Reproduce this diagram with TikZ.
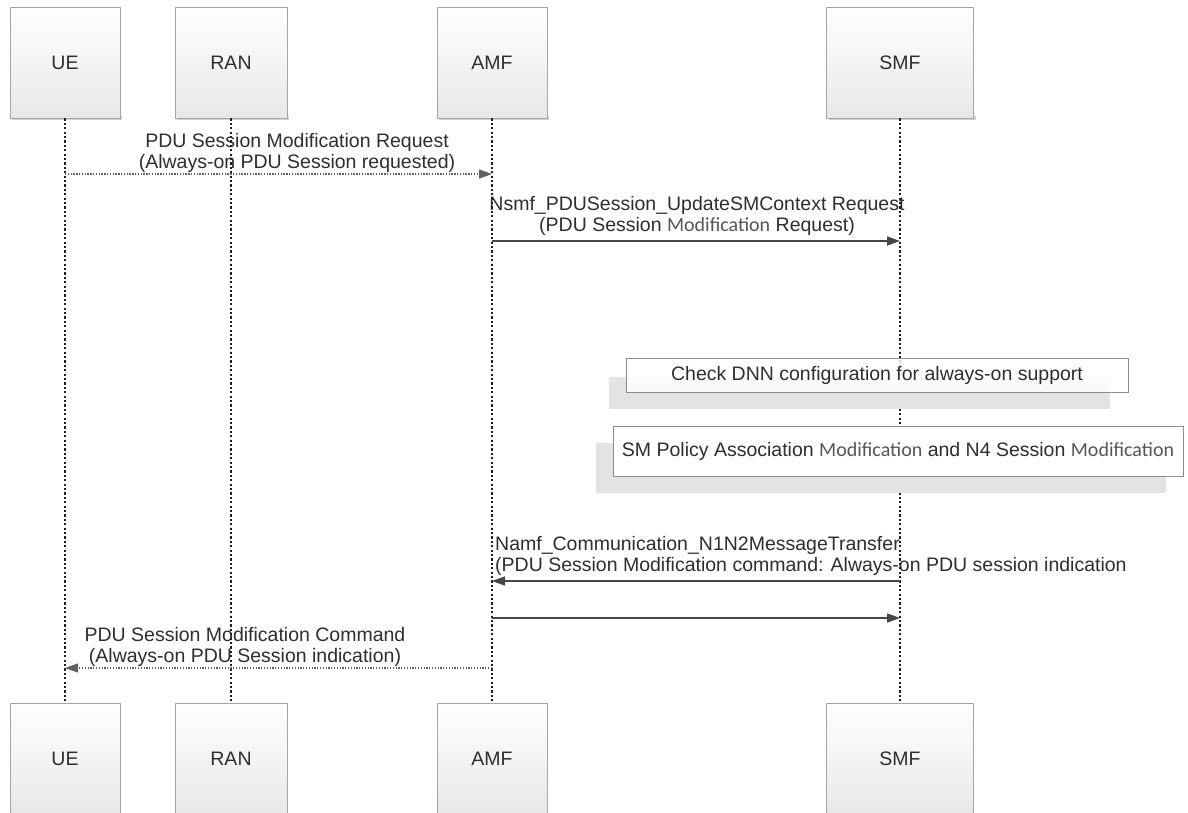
\documentclass[tikz,border=0pt]{standalone}
\usepackage{fontspec}
\setmainfont{Liberation Sans}
\newfontfamily\calib{Carlito}
\usetikzlibrary{arrows.meta,calc}
\definecolor{txt}{HTML}{2E2E2E}
\definecolor{modc}{HTML}{555555}
\definecolor{shadowc}{HTML}{E3E3E3}
\definecolor{boxborder}{HTML}{A5A5A5}
\newcommand{\modw}{{\calib\fontsize{20}{21}\selectfont\color{modc}Modification}}
\begin{document}
\begin{tikzpicture}[x=1pt,y=-1pt,
  font=\fontsize{19.5}{21}\selectfont, text=txt,
  part/.style={draw=boxborder, top color=white, bottom color=black!9, minimum height=111pt, inner sep=0pt, line width=0.9pt},
  pshadow/.style={fill=black!18, draw=none},
  life/.style={draw=black!88, line width=1.4pt, dash pattern=on 2.2pt off 2.2pt},
  msgsolid/.style={draw=black!72, line width=1.4pt, -{Triangle[length=13pt,width=9pt]}},
  msgdot/.style={draw=black!62, line width=1.2pt, dash pattern=on 1.3pt off 1.5pt, -{Triangle[length=13pt,width=9pt]}},
  lbl/.style={align=center, inner sep=0pt},
  lbll/.style={align=left, inner sep=0pt, anchor=west},
  note/.style={draw=black!45, fill=white, line width=0.9pt, inner sep=0pt},
  shade/.style={fill=shadowc, draw=none}]
\useasboundingbox (0,0) rectangle (1188,813);
\fill[white] (0,0) rectangle (1188,813);

% participant box shadows (top)
\fill[pshadow] (12,116) rectangle (122,120);
\fill[pshadow] (177,116) rectangle (289,120);
\fill[pshadow] (439,116) rectangle (549,120);
\fill[pshadow] (828.5,116) rectangle (975.5,120);

% participants (top)
\node[part, minimum width=110pt] (ueT) at (65,62.5) {UE};
\node[part, minimum width=112pt] (ranT) at (231,62.5) {RAN};
\node[part, minimum width=110pt] (amfT) at (492,62.5) {AMF};
\node[part, minimum width=147pt] (smfT) at (900,62.5) {SMF};
% participants (bottom)
\node[part, minimum width=110pt] (ueB) at (65,758.5) {UE};
\node[part, minimum width=112pt] (ranB) at (231,758.5) {RAN};
\node[part, minimum width=110pt] (amfB) at (492,758.5) {AMF};
\node[part, minimum width=147pt] (smfB) at (900,758.5) {SMF};

% message labels
\node[lbl] (l1) at (297,152.5) {PDU Session Modification Request\\(Always-on PDU Session requested)};
\node[lbl] (l2) at (697,215.5) {Nsmf\_PDUSession\_UpdateSMContext Request\\(PDU Session \modw{} Request)};
\node[lbll] (l4) at (495,556) {Namf\_Communication\_N1N2MessageTransfer\\(PDU Session Modification command: Always-on PDU session indication};
\node[lbl] (l6) at (245,647) {PDU Session Modification Command\\(Always-on PDU Session indication)};

% lifelines
\draw[life] (ueT.south) -- (ueB.north);
\draw[life] (ranT.south) -- (ranB.north);
\draw[life] (amfT.south) -- (amfB.north);
\draw[life] (smfT.south) -- (smfB.north);

% notes
\fill[shade] (609,377) rectangle (1110,409);
\node[note, fill opacity=0.85, text opacity=1, minimum width=502pt, minimum height=34pt] (n1) at (877,375) {Check DNN configuration for always-on support};
\fill[shade] (596,443) rectangle (1166,493);
\node[note, minimum width=570pt, minimum height=50pt] (n2) at (898,451) {SM Policy Association \modw{} and N4 Session \modw};

% messages
\coordinate (a1s) at (ueT.south |- 0,174);
\coordinate (a1e) at (amfT.south |- 0,174);
\draw[msgdot] (a1s) -- (a1e);
\coordinate (a2s) at (amfT.south |- 0,241);
\coordinate (a2e) at (smfT.south |- 0,241);
\draw[msgsolid] (a2s) -- (a2e);
\coordinate (a3s) at (smfT.south |- 0,581);
\coordinate (a3e) at (amfT.south |- 0,581);
\draw[msgsolid] (a3s) -- (a3e);
\coordinate (a4s) at (amfT.south |- 0,618);
\coordinate (a4e) at (smfT.south |- 0,618);
\draw[msgsolid] (a4s) -- (a4e);
\coordinate (a6s) at (amfT.south |- 0,668);
\coordinate (a6e) at (ueT.south |- 0,668);
\draw[msgdot] (a6s) -- (a6e);
\end{tikzpicture}
\end{document}
